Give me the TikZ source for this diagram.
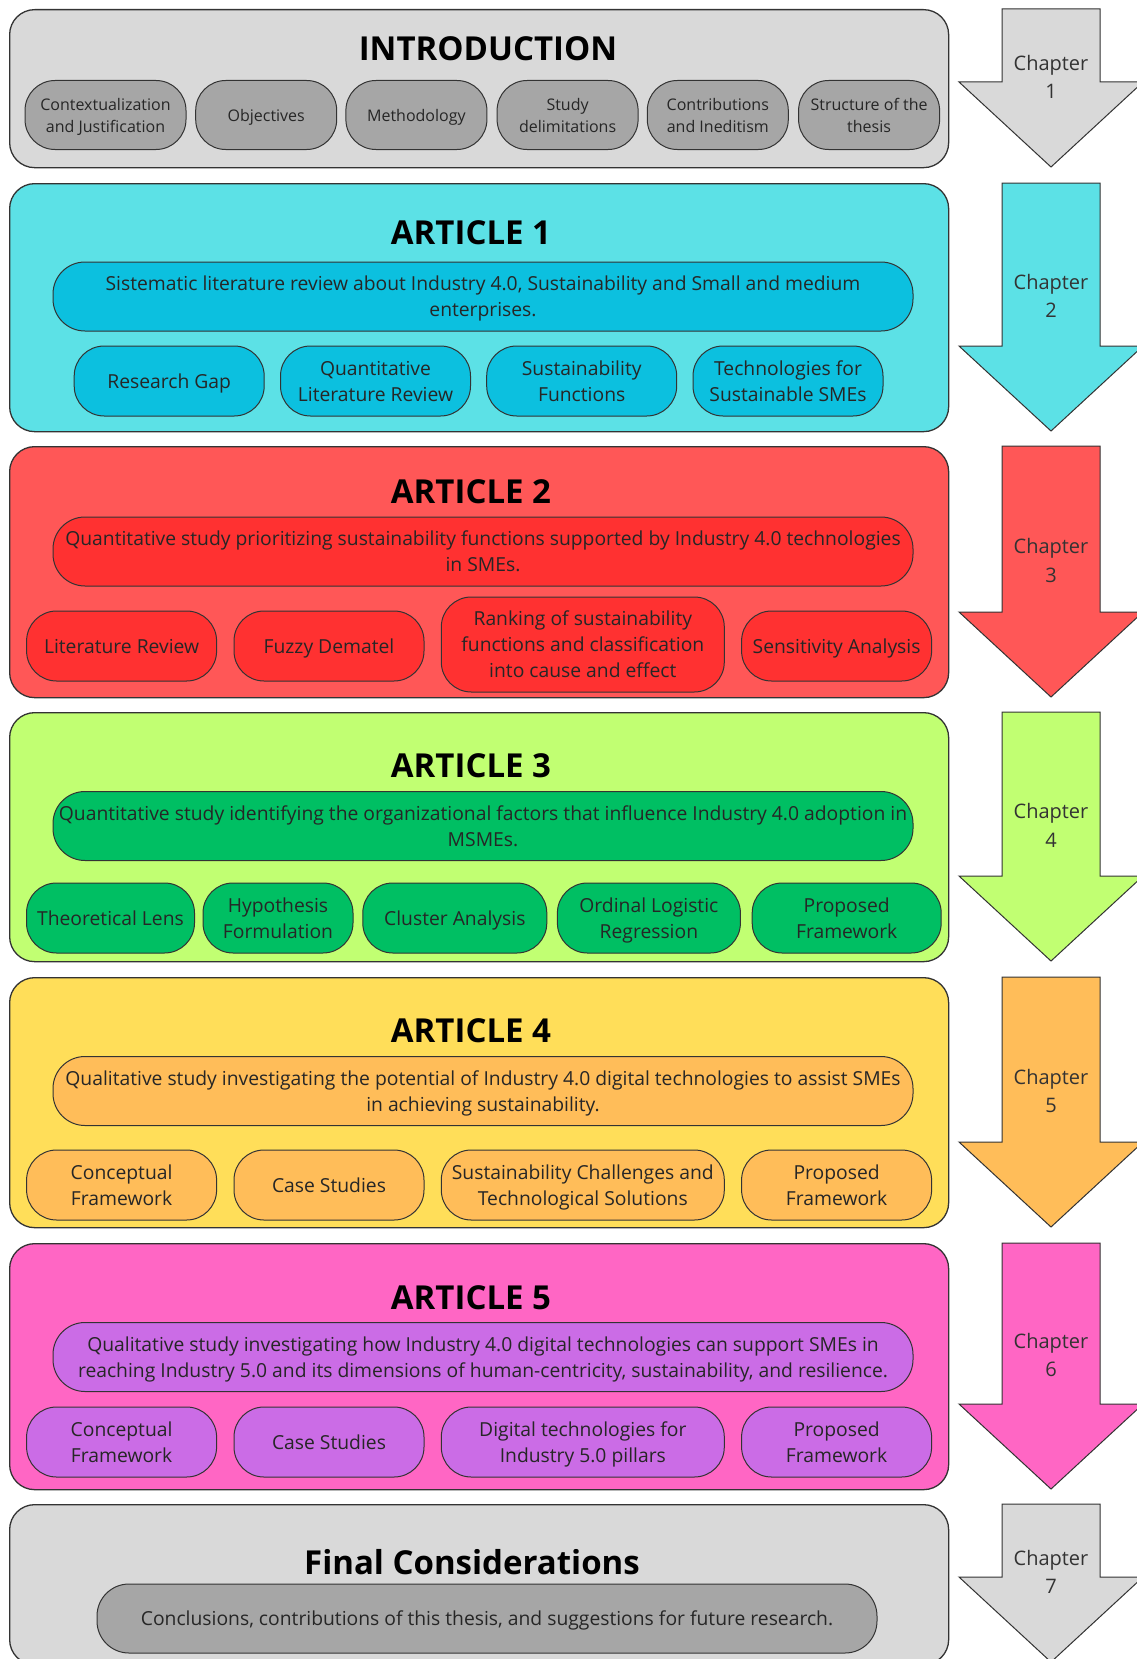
\documentclass[tikz,border=0pt]{standalone}
\usepackage{fontspec}
\setmainfont{Open Sans}
\begin{document}
\begin{tikzpicture}[x=1pt,y=-1pt]
% palette
\definecolor{introBg}{HTML}{D9D9D9}\definecolor{introPill}{HTML}{A6A6A6}
\definecolor{aoneBg}{HTML}{5CE1E6}\definecolor{aonePill}{HTML}{0CC0DF}
\definecolor{atwoBg}{HTML}{FF5757}\definecolor{atwoPill}{HTML}{FF3131}
\definecolor{athreeBg}{HTML}{C1FF72}\definecolor{athreePill}{HTML}{00BF63}
\definecolor{afourBg}{HTML}{FFDE59}\definecolor{afourPill}{HTML}{FFBD59}
\definecolor{afiveBg}{HTML}{FF66C4}\definecolor{afivePill}{HTML}{CB6CE6}
\definecolor{edge}{HTML}{333333}
\tikzset{
  section/.style={draw=edge, line width=1.3pt, rounded corners=25pt, inner sep=0pt, anchor=north west},
  pill/.style={draw=edge, line width=1pt, rounded corners=30pt, inner sep=0pt, align=center,
    text=black!85, font=\fontsize{19.3}{26}\selectfont, text depth=0pt},
  smallpill/.style={pill, font=\fontsize{16}{22}\selectfont, minimum width=141pt, minimum height=69pt},
  sub/.style={pill, minimum width=190pt, minimum height=70pt},
  desc/.style={pill, rounded corners=32pt, minimum width=860pt, minimum height=69pt},
  heading/.style={font=\fontsize{33}{40}\selectfont\bfseries, text=black, inner sep=0pt},
  chaptext/.style={align=center, text=black!80, font=\fontsize{20}{28.5}\selectfont, inner sep=0pt},
  arrowshape/.style={draw=edge, line width=1pt, line join=miter}
}
% down arrow with its chapter label: #1 name, #2 top, #3 tip, #4 fill, #5 number
\newcommand{\chaparrow}[5]{%
  \draw[arrowshape, fill=#4] (1002,#2) -- (1100,#2) -- (1100,{#3-85}) -- (1143,{#3-85})
    -- (1051,#3) -- (959,{#3-85}) -- (1002,{#3-85}) -- cycle;
  \node[chaptext] (#1) at (1051,{(#2+#3)/2-11}) {Chapter\\#5};
}
\fill[white] (0,0) rectangle (1136,1659);
\useasboundingbox (0,0) rectangle (1136,1659);

% ---------------- Introduction
\node[section, fill=introBg, minimum width=939pt, minimum height=158pt] (intro) at (9,9) {};
\node[heading] (introTitle) at (488,48.5) {INTRODUCTION};
\node[smallpill, fill=introPill, minimum width=161pt] (i1) at (105.5,115) {Contextualization\\and Justification};
\node[smallpill, fill=introPill] (i2) at (266.2,115) {Objectives};
\node[smallpill, fill=introPill] (i3) at (416.4,115) {Methodology};
\node[smallpill, fill=introPill] (i4) at (567.6,115) {Study\\delimitations};
\node[smallpill, fill=introPill] (i5) at (717.8,115) {Contributions\\and Ineditism};
\node[smallpill, fill=introPill] (i6) at (869.1,115) {Structure of the\\thesis};
\chaparrow{ch1}{9}{167}{introBg}{1}

% ---------------- Article 1
\node[section, fill=aoneBg, minimum width=939pt, minimum height=248pt] (aone) at (9,183) {};
\node[heading] (aoneTitle) at (471,232.5) {ARTICLE 1};
\node[desc, fill=aonePill] (aoneDesc) at (483,296.5) {Sistematic literature review about Industry 4.0, Sustainability and Small and medium\\enterprises.};
\node[sub, fill=aonePill] (aoneA) at (169.2,381) {Research Gap};
\node[sub, fill=aonePill] (aoneB) at (375.5,381) {Quantitative\\Literature Review};
\node[sub, fill=aonePill] (aoneC) at (581.7,381) {Sustainability\\Functions};
\node[sub, fill=aonePill] (aoneD) at (788,381) {Technologies for\\Sustainable SMEs};
\chaparrow{ch2}{183}{431}{aoneBg}{2}

% ---------------- Article 2
\node[section, fill=atwoBg, minimum width=939pt, minimum height=251pt] (atwo) at (9,446) {};
\node[heading] (atwoTitle) at (471,491.5) {ARTICLE 2};
\node[desc, fill=atwoPill] (atwoDesc) at (483,551.5) {Quantitative study prioritizing sustainability functions supported by Industry 4.0 technologies\\in SMEs.};
\node[sub, fill=atwoPill] (atwoA) at (121.6,646) {Literature Review};
\node[sub, fill=atwoPill] (atwoB) at (329,646) {Fuzzy Dematel};
\node[sub, fill=atwoPill, minimum width=283pt, minimum height=95pt] (atwoC) at (582.8,644.5) {Ranking of sustainability\\functions and classification\\into cause and effect};
\node[sub, fill=atwoPill] (atwoD) at (836.6,646) {Sensitivity Analysis};
\chaparrow{ch3}{446}{697}{atwoBg}{3}

% ---------------- Article 3
\node[section, fill=athreeBg, minimum width=939pt, minimum height=249pt] (athree) at (9,712) {};
\node[heading] (athreeTitle) at (471,765.5) {ARTICLE 3};
\node[desc, fill=athreePill] (athreeDesc) at (483,826) {Quantitative study identifying the organizational factors that influence Industry 4.0 adoption in\\MSMEs.};
\node[sub, fill=athreePill, minimum width=168pt] (athreeA) at (110.5,918) {Theoretical Lens};
\node[sub, fill=athreePill, minimum width=150pt] (athreeB) at (278,918) {Hypothesis\\Formulation};
\node[sub, fill=athreePill, minimum width=184pt] (athreeC) at (454.8,918) {Cluster Analysis};
\node[sub, fill=athreePill, minimum width=183pt] (athreeD) at (648.9,918) {Ordinal Logistic\\Regression};
\node[sub, fill=athreePill, minimum width=189pt] (athreeE) at (846.7,918) {Proposed\\Framework};
\chaparrow{ch4}{712}{961}{athreeBg}{4}

% ---------------- Article 4
\node[section, fill=afourBg, minimum width=939pt, minimum height=250pt] (afour) at (9,977) {};
\node[heading] (afourTitle) at (471,1030.5) {ARTICLE 4};
\node[desc, fill=afourPill] (afourDesc) at (483,1091) {Qualitative study investigating the potential of Industry 4.0 digital technologies to assist SMEs\\in achieving sustainability.};
\node[sub, fill=afourPill] (afourA) at (121.6,1185) {Conceptual\\Framework};
\node[sub, fill=afourPill] (afourB) at (329,1185) {Case Studies};
\node[sub, fill=afourPill, minimum width=283pt] (afourC) at (582.8,1185) {Sustainability Challenges and\\Technological Solutions};
\node[sub, fill=afourPill] (afourD) at (836.6,1185) {Proposed\\Framework};
\chaparrow{ch5}{977}{1227}{afourPill}{5}

% ---------------- Article 5
\node[section, fill=afiveBg, minimum width=939pt, minimum height=246pt] (afive) at (9,1243) {};
\node[heading] (afiveTitle) at (471,1297.5) {ARTICLE 5};
\node[desc, fill=afivePill] (afiveDesc) at (483,1357) {Qualitative study investigating how Industry 4.0 digital technologies can support SMEs in\\reaching Industry 5.0 and its dimensions of human-centricity, sustainability, and resilience.};
\node[sub, fill=afivePill] (afiveA) at (121.6,1442) {Conceptual\\Framework};
\node[sub, fill=afivePill] (afiveB) at (329,1442) {Case Studies};
\node[sub, fill=afivePill, minimum width=283pt] (afiveC) at (582.8,1442) {Digital technologies for\\Industry 5.0 pillars};
\node[sub, fill=afivePill] (afiveD) at (836.6,1442) {Proposed\\Framework};
\chaparrow{ch6}{1243}{1489}{afiveBg}{6}

% ---------------- Final considerations
\node[section, fill=introBg, minimum width=939pt, minimum height=160pt] (final) at (9,1504) {};
\node[heading] (finalTitle) at (472,1562.5) {Final Considerations};
\node[desc, fill=introPill, minimum width=780pt] (finalDesc) at (487,1618.5) {Conclusions, contributions of this thesis, and suggestions for future research.};
\chaparrow{ch7}{1504}{1662}{introBg}{7}
\end{tikzpicture}
\end{document}
